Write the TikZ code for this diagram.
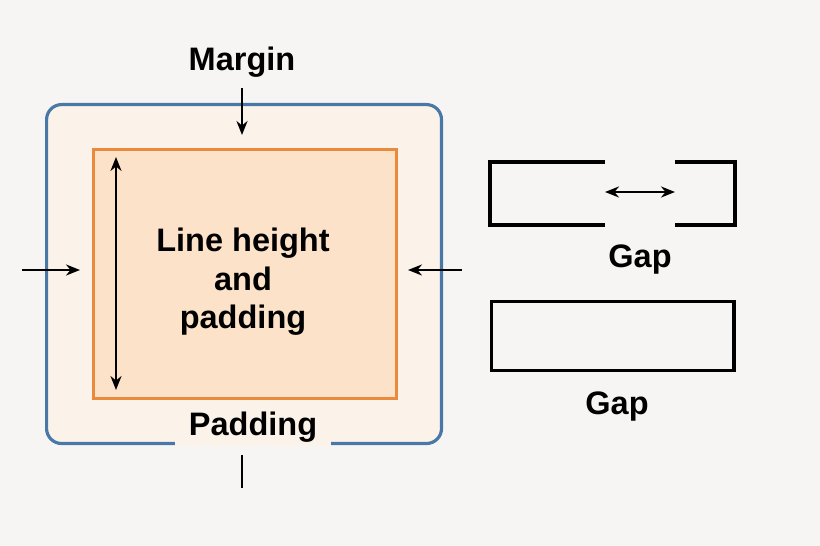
\documentclass[tikz,border=0pt]{standalone}
\usepackage{fontspec}
\setmainfont{Liberation Sans}
\usetikzlibrary{arrows.meta}
\definecolor{bgcol}{HTML}{F6F5F3}
\definecolor{outerfill}{HTML}{FBF3EA}
\definecolor{innerfill}{HTML}{FCE2C9}
\definecolor{bluecol}{HTML}{4A78A6}
\definecolor{orangecol}{HTML}{E98A3C}
\tikzset{
	lbl/.style={font=\fontsize{18.5}{22}\selectfont\bfseries, align=center},
	arr/.style={-{Stealth[length=2.8mm,width=2.2mm]}, line width=1.2pt},
	darr/.style={{Stealth[length=2.8mm,width=2.2mm]}-{Stealth[length=2.8mm,width=2.2mm]}, line width=1.2pt},
	box/.style={draw=black, line width=1.8pt}
}
\begin{document}
\begin{tikzpicture}[x=0.02cm, y=-0.02cm]
		\fill[bgcol] (0,0) rectangle (820,546);
		\node[draw=bluecol, fill=outerfill, line width=1.8pt, rounded corners=3mm, minimum width=7.9cm, minimum height=6.78cm, anchor=north west] (outer) at (45,103) {};
		\node[draw=orangecol, fill=innerfill, line width=1.8pt, minimum width=6.06cm, minimum height=4.98cm, anchor=north west] (inner) at (92,148) {};
		\node[lbl] (margin) at (242,62) {Margin};
		\node[lbl] (content) at (243,282) {Line height\\and\\padding};
		\node[lbl, fill=outerfill, inner xsep=8pt, inner ysep=2pt] (padding) at (253,427) {Padding};
		\coordinate (mtop) at (242,88);
		\coordinate (mbot) at (242,135);
		\coordinate (lfrom) at (22,270);
		\coordinate (lto) at (80,270);
		\coordinate (rfrom) at (462,270);
		\coordinate (rto) at (408,270);
		\coordinate (htop) at (116,157);
		\coordinate (hbot) at (116,390);
		\coordinate (ptop) at (242,455);
		\coordinate (pbot) at (242,488);
		\draw[arr] (mtop) -- (mbot);
		\draw[arr] (lfrom) -- (lto);
		\draw[arr] (rfrom) -- (rto);
		\draw[darr] (htop) -- (hbot);
		\draw[line width=1.4pt] (ptop) -- (pbot);
		% gap example
		\draw[box] (605,162) -- (490,162) -- (490,225) -- (605,225);
		\draw[box] (675,162) -- (735,162) -- (735,225) -- (675,225);
		\coordinate (gl) at (605,192);
		\coordinate (gr) at (675,192);
		\draw[darr] (gl) -- (gr);
		\node[lbl] (gap1) at (640,260) {Gap};
		\node[box, minimum width=4.85cm, minimum height=1.38cm, anchor=north west] (solid) at (490,300) {};
		\node[lbl] (gap2) at (617,407) {Gap};
	\end{tikzpicture}
\end{document}
